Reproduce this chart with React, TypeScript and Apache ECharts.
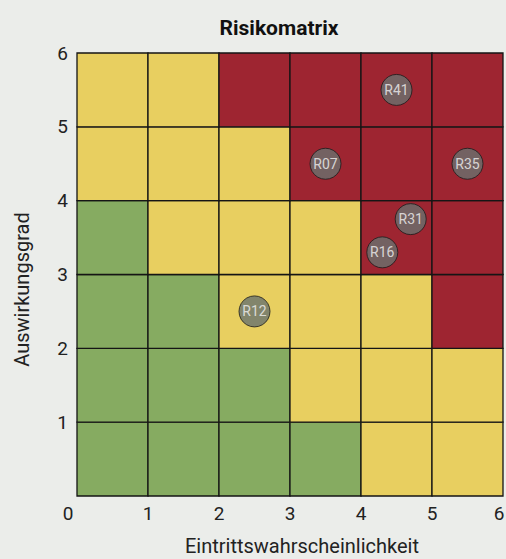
import React, { useEffect, useRef } from "react";
import * as echarts from "echarts";

const ticks = [0, 1, 2, 3, 4, 5, 6];
// cell levels by row (y = 0 at bottom), columns x = 0..5 ; G = green, Y = yellow, R = red
const cellRows = [
  ["G", "G", "G", "G", "Y", "Y"],
  ["G", "G", "G", "Y", "Y", "Y"],
  ["G", "G", "Y", "Y", "Y", "R"],
  ["G", "Y", "Y", "Y", "R", "R"],
  ["Y", "Y", "Y", "R", "R", "R"],
  ["Y", "Y", "R", "R", "R", "R"],
];
const riskIds = ["R41", "R07", "R35", "R31", "R16", "R12"];
const riskX = [4.5, 3.5, 5.5, 4.7, 4.3, 2.5];
const riskY = [5.5, 4.5, 4.5, 3.75, 3.3, 2.5];

const levelColor: Record<string, string> = {
  G: "#86ab61",
  Y: "#e8cf60",
  R: "#9e2531",
};

export default function App() {
  const ref = useRef<HTMLDivElement>(null);
  useEffect(() => {
    if (!ref.current) return;
    const chart = echarts.init(ref.current, undefined, { renderer: "svg" });
    const cells: any[] = [];
    cellRows.forEach((row, y) =>
      row.forEach((lvl, x) => cells.push({ value: [x, y], itemStyle: { color: levelColor[lvl] } }))
    );
    const font = "Roboto, sans-serif";
    const lbl = { fontFamily: font, fontSize: 19, color: "#222" };
    chart.setOption({
      animation: false,
      backgroundColor: "#ebedea",
      title: {
        text: "Risikomatrix",
        left: 274,
        top: 12,
        textAlign: "center",
        textStyle: { fontFamily: font, fontWeight: "bold", fontSize: 21, color: "#111" },
      },
      grid: { left: 77, right: 3, top: 53, bottom: 63, outerBoundsMode: "none", containLabel: false },
      xAxis: {
        type: "value",
        min: 0,
        max: 6,
        interval: 1,
        data: ticks,
        name: "Eintrittswahrscheinlichkeit",
        nameLocation: "middle",
        nameGap: 40,
        nameTextStyle: { fontFamily: font, fontSize: 20, color: "#222", padding: [0, 0, 0, 24] },
        axisLine: { show: false },
        axisTick: { show: false },
        splitLine: { show: false },
        axisLabel: {
          ...lbl,
          margin: 8,
          formatter: (v: number) => (v === 0 ? "{z|0}" : v === 6 ? "{e|6}" : String(v)),
          rich: {
            z: { ...lbl, padding: [0, 18, 6, 0] },
            e: { ...lbl, padding: [0, 8, 0, 0] },
          },
        },
      },
      yAxis: {
        type: "value",
        min: 0,
        max: 6,
        interval: 1,
        name: "Auswirkungsgrad",
        nameLocation: "middle",
        nameGap: 45,
        nameTextStyle: { fontFamily: font, fontSize: 20, color: "#222", padding: [0, 30, 0, 0] },
        axisLine: { show: false },
        axisTick: { show: false },
        splitLine: { show: false },
        axisLabel: {
          ...lbl,
          margin: 9,
          formatter: (v: number) => (v === 0 ? "" : String(v)),
        },
      },
      series: [
        {
          type: "custom",
          data: cells,
          renderItem: (params: any, api: any) => {
            const x = api.value(0);
            const y = api.value(1);
            const p0 = api.coord([x, y + 1]);
            const p1 = api.coord([x + 1, y]);
            return {
              type: "rect",
              shape: { x: p0[0], y: p0[1], width: p1[0] - p0[0], height: p1[1] - p0[1] },
              style: { fill: api.visual("color"), stroke: "#151515", lineWidth: 1.3 },
            };
          },
          z: 1,
        },
        {
          type: "scatter",
          data: riskIds.map((id, i) => ({ name: id, value: [riskX[i], riskY[i]] })),
          symbolSize: 31,
          itemStyle: { color: "#68726f", borderColor: "#1a1a1a", borderWidth: 1 },
          label: {
            show: true,
            position: "inside",
            formatter: (p: any) => p.name,
            fontFamily: font,
            fontSize: 14,
            color: "#f2f2f2",
          },
          z: 3,
        },
      ],
    });
    return () => chart.dispose();
  }, []);
  return (
    <div
      ref={ref}
      style={{ position: "fixed", left: 0, top: 0, width: 506, height: 559 }}
    />
  );
}
